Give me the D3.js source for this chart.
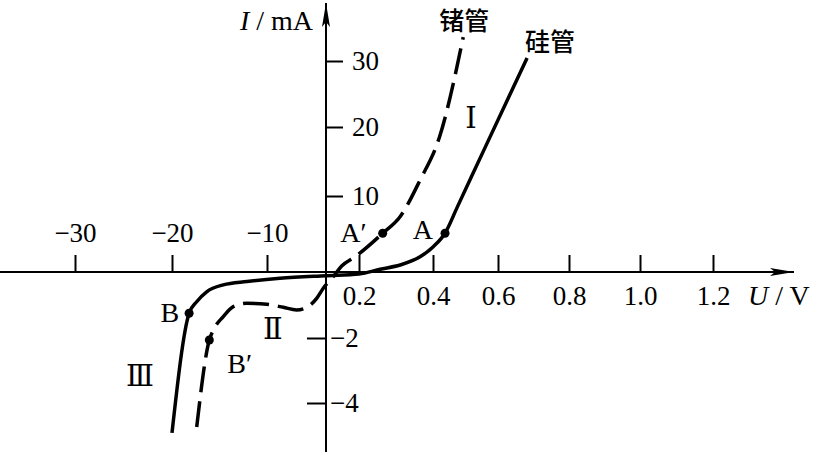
<!DOCTYPE html>
<html>
<head>
<meta charset="utf-8">
<script src="https://cdn.jsdelivr.net/npm/d3@7"></script>
<style>
  body { margin: 0; background: #fff; }
  svg { display: block; background: #fff; }
  .tick text { font-family: "Liberation Serif", "Times New Roman", serif; font-size: 27px; fill: #000; }
  .tick line { stroke: #000; stroke-width: 2px; }
  .lbl { font-family: "Liberation Serif", "Times New Roman", serif; font-size: 28px; fill: #000; }
  .roman { font-family: "DejaVu Serif", "Liberation Serif", serif; font-size: 29px; fill: #000; }
  .cn { font-family: "Noto Sans CJK SC", sans-serif; font-size: 25px; font-weight: 500; fill: #000; }
</style>
</head>
<body>
<svg width="814" height="452"></svg>
<script>
// tick values
var uTicksNeg = [-30, -20, -10],
    uTicksPos = [0.2, 0.4, 0.6, 0.8, 1.0, 1.2],
    iTicksPos = [10, 20, 30],
    iTicksNeg = [-2, -4];

// silicon diode (solid), U in V, I in mA (negative branch in uA-like units)
var siU = [-20.0, -18.2, -17.4, -16.35, -14.6, -12.1, -7.8, 0.0, 0.2, 0.257, 0.311, 0.365, 0.4, 0.437, 0.475, 0.563, 0.682],
    siI = [-4.92, -1.25, -0.90, -0.60, -0.39, -0.29, -0.19, -0.11, -0.06, 0.36, 0.92, 2.0, 3.3, 5.1, 8.57, 17.3, 30.45];

// germanium diode (dashed)
var geU = [-17.4, -16.07, -15.65, -14.6, -13.55, -12.14, -10.03, -7.24, -4.97, -3.27, -1.58, -0.46, 0.044, 0.095, 0.176, 0.264, 0.311, 0.365, 0.42, 0.493],
    geI = [-4.74, -2.06, -1.76, -1.35, -1.05, -0.95, -0.98, -1.07, -1.15, -1.07, -0.80, -0.49, -0.14, 0.79, 2.0, 5.1, 7.28, 12.3, 18.55, 33.6];

// marked points
var markNames = ["A", "A\u2032", "B", "B\u2032"],
    markU = [0.437, 0.264, -18.2, -16.07],
    markI = [5.1, 5.1, -1.25, -2.06];

// region labels
var regionNames = ["\u2160", "\u2161", "\u2162"],
    regionU = [0.517, -9.0, -23.3],
    regionI = [21.4, -1.73, -3.17];

var svg = d3.select("svg"),
    width = 814,
    height = 452;

// the drawing is schematic: each side of each axis has its own spacing
var x = d3.scaleLinear()
    .domain([-30, -20, -10, 0, 0.2, 0.4, 0.6, 0.8, 1.0, 1.2])
    .range([75, 172, 267, 326, 359, 433, 498, 569, 640, 713]);
var y = d3.scaleLinear()
    .domain([-4, -2, 0, 10, 20, 30])
    .range([403, 338, 272, 196, 127, 61]);

var x0 = x(0), y0 = y(0);

// arrow heads
var defs = svg.append("defs");
defs.append("marker")
    .attr("id", "arrow")
    .attr("viewBox", "0 0 24 10")
    .attr("refX", 24).attr("refY", 5)
    .attr("markerWidth", 24).attr("markerHeight", 10)
    .attr("markerUnits", "userSpaceOnUse")
    .attr("orient", "auto")
    .append("path")
    .attr("d", "M0,1 L24,5 L0,9 L5,5 Z")
    .attr("fill", "#000");

// axes lines
svg.append("line")
    .attr("x1", 0).attr("y1", y0).attr("x2", 794).attr("y2", y0)
    .attr("stroke", "#000").attr("stroke-width", 2)
    .attr("marker-end", "url(#arrow)");
svg.append("line")
    .attr("x1", x0).attr("y1", height).attr("x2", x0).attr("y2", 3)
    .attr("stroke", "#000").attr("stroke-width", 2)
    .attr("marker-end", "url(#arrow)");

// negative U ticks: ticks up, labels above
var gxn = svg.append("g")
    .attr("transform", "translate(0," + y0 + ")")
    .call(d3.axisTop(x).tickValues(uTicksNeg).tickSize(17).tickPadding(13).tickFormat(d3.format("d")));

// positive U ticks: ticks up, labels below
var gxp = svg.append("g")
    .attr("transform", "translate(0," + y0 + ")")
    .call(d3.axisTop(x).tickValues(uTicksPos).tickSize(17).tickFormat(d3.format(".1f")));
gxp.selectAll(".tick text").attr("y", 33).attr("dy", 0);

// positive I ticks: right side
var gyp = svg.append("g")
    .attr("transform", "translate(" + x0 + ",0)")
    .call(d3.axisRight(y).tickValues(iTicksPos).tickSize(17).tickPadding(9).tickFormat(d3.format("d")));

// negative I ticks: tick on left, label on right
var gyn = svg.append("g")
    .attr("transform", "translate(" + x0 + ",0)")
    .call(d3.axisLeft(y).tickValues(iTicksNeg).tickSize(19).tickFormat(d3.format("d")));
gyn.selectAll(".tick text").attr("x", 4).attr("text-anchor", "start");

svg.selectAll(".domain").remove();

// axis titles
var ti = svg.append("text").attr("class", "lbl")
    .attr("x", 313).attr("y", 30).attr("text-anchor", "end");
ti.append("tspan").attr("font-style", "italic").text("I");
ti.append("tspan").text(" / mA");

var tu = svg.append("text").attr("class", "lbl")
    .attr("x", 748).attr("y", 305);
tu.append("tspan").attr("font-style", "italic").text("U");
tu.append("tspan").text(" / V");

// curves
var line = d3.line()
    .x(function(d) { return x(d[0]); })
    .y(function(d) { return y(d[1]); })
    .curve(d3.curveMonotoneX);

var si = d3.zip(siU, siI),
    ge = d3.zip(geU, geI);

svg.append("path")
    .attr("d", line(si))
    .attr("fill", "none")
    .attr("stroke", "#000")
    .attr("stroke-width", 3.5);

svg.append("path")
    .attr("d", line(ge))
    .attr("fill", "none")
    .attr("stroke", "#000")
    .attr("stroke-width", 3.5)
    .attr("stroke-dasharray", "26,9");

// curve names at the top ends
var siTop = si[si.length - 1], geTop = ge[ge.length - 1];
svg.append("text").attr("class", "cn")
    .attr("x", x(geTop[0]) + 1).attr("y", y(geTop[1]) - 18)
    .attr("text-anchor", "middle").attr("dominant-baseline", "central")
    .text("锗管");
svg.append("text").attr("class", "cn")
    .attr("x", x(siTop[0]) + 23).attr("y", y(siTop[1]) - 18)
    .attr("text-anchor", "middle").attr("dominant-baseline", "central")
    .text("硅管");

// marked points
var labelOffset = [
    {dx: -12, dy: 6, anchor: "end"},
    {dx: -16, dy: 9, anchor: "end"},
    {dx: -10, dy: 9, anchor: "end"},
    {dx: 18, dy: 33, anchor: "start"}
];

var marks = svg.append("g").selectAll("g")
    .data(markNames)
    .enter().append("g")
    .attr("transform", function(d, i) {
        return "translate(" + x(markU[i]) + "," + y(markI[i]) + ")";
    });

marks.append("circle").attr("r", 4.5).attr("fill", "#000");

marks.append("text").attr("class", "lbl")
    .attr("x", function(d, i) { return labelOffset[i].dx; })
    .attr("y", function(d, i) { return labelOffset[i].dy; })
    .attr("text-anchor", function(d, i) { return labelOffset[i].anchor; })
    .text(function(d) { return d; });

// region numerals
svg.append("g").selectAll("text")
    .data(regionNames)
    .enter().append("text")
    .attr("class", "roman")
    .attr("x", function(d, i) { return x(regionU[i]); })
    .attr("y", function(d, i) { return y(regionI[i]); })
    .attr("text-anchor", "middle")
    .attr("dominant-baseline", "central")
    .text(function(d) { return d; });
</script>
</body>
</html>
